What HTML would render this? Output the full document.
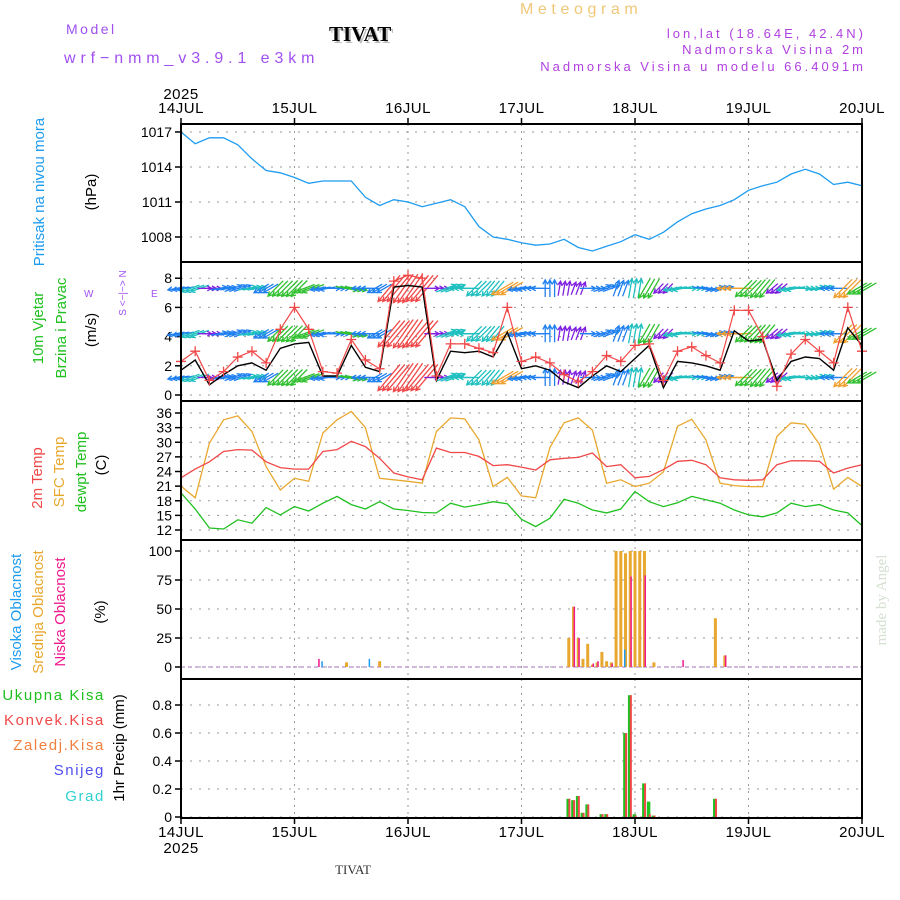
<!DOCTYPE html>
<html><head><meta charset="utf-8"><style>
html,body{margin:0;padding:0;background:#fff;}
svg{display:block;font-family:"Liberation Sans",sans-serif;}
</style></head><body>
<svg id="chart" width="900" height="900" viewBox="0 0 900 900">
<g>
<text x="66" y="34" fill="#a050f0" font-size="14" letter-spacing="2.5">Model</text>
<text x="64" y="63" fill="#a050f0" font-size="16" letter-spacing="4.9">wrf−nmm_v3.9.1 e3km</text>
<text x="331" y="43" fill="#bbb" font-size="21" font-weight="bold" font-family="Liberation Serif,serif">TIVAT</text>
<text x="329" y="41" fill="#000" font-size="21" font-weight="bold" font-family="Liberation Serif,serif">TIVAT</text>
<text x="520" y="14" fill="#f0c878" font-size="16" letter-spacing="4.6">Meteogram</text>
<text x="866" y="38" fill="#b040e0" font-size="13" text-anchor="end" letter-spacing="3">lon,lat (18.64E, 42.4N)</text>
<text x="866" y="54" fill="#b040e0" font-size="13" text-anchor="end" letter-spacing="3">Nadmorska Visina 2m</text>
<text x="866" y="71" fill="#b040e0" font-size="13" text-anchor="end" letter-spacing="3">Nadmorska Visina u modelu 66.4091m</text>
</g>
<g>
<text transform="translate(44,192) rotate(-90)" fill="#1e9cf0" font-size="15" text-anchor="middle">Pritisak na nivou mora</text>
<text transform="translate(96,192) rotate(-90)" fill="#000" font-size="15" text-anchor="middle">(hPa)</text>
<text transform="translate(43,328) rotate(-90)" fill="#20c020" font-size="15" text-anchor="middle">10m Vjetar</text>
<text transform="translate(66,328) rotate(-90)" fill="#20c020" font-size="15" text-anchor="middle">Brzina i Pravac</text>
<text transform="translate(96,330) rotate(-90)" fill="#000" font-size="15" text-anchor="middle">(m/s)</text>
<text transform="translate(126,293) rotate(-90)" fill="#a050f0" font-size="10" text-anchor="middle">S &lt;−|−&gt; N</text>
<text x="84" y="297" fill="#a050f0" font-size="10">W</text>
<text x="151" y="297" fill="#a050f0" font-size="10">E</text>
<text transform="translate(42,478) rotate(-90)" fill="#f04848" font-size="15" text-anchor="middle">2m Temp</text>
<text transform="translate(64,472) rotate(-90)" fill="#e8a830" font-size="15" text-anchor="middle">SFC Temp</text>
<text transform="translate(86,472) rotate(-90)" fill="#20c020" font-size="15" text-anchor="middle">dewpt Temp</text>
<text transform="translate(106,465) rotate(-90)" fill="#000" font-size="15" text-anchor="middle">(C)</text>
<text transform="translate(21,612) rotate(-90)" fill="#1e9cf0" font-size="15" text-anchor="middle">Visoka Oblacnost</text>
<text transform="translate(43,612) rotate(-90)" fill="#e8a830" font-size="15" text-anchor="middle">Srednja Oblacnost</text>
<text transform="translate(65,612) rotate(-90)" fill="#f0188c" font-size="15" text-anchor="middle">Niska Oblacnost</text>
<text transform="translate(105,612) rotate(-90)" fill="#000" font-size="15" text-anchor="middle">(%)</text>
<text x="105" y="700" fill="#20c020" font-size="15" text-anchor="end" letter-spacing="1.6">Ukupna  Kisa</text>
<text x="105" y="725" fill="#f04848" font-size="15" text-anchor="end" letter-spacing="1.6">Konvek.Kisa</text>
<text x="105" y="750" fill="#f08040" font-size="15" text-anchor="end" letter-spacing="1.6">Zaledj.Kisa</text>
<text x="105" y="775" fill="#5050f0" font-size="15" text-anchor="end" letter-spacing="1.6">Snijeg</text>
<text x="105" y="801" fill="#30d0d0" font-size="15" text-anchor="end" letter-spacing="1.6">Grad</text>
<text transform="translate(124,748) rotate(-90)" fill="#000" font-size="15" text-anchor="middle">1hr Precip (mm)</text>
<text transform="translate(886,600) rotate(-90)" fill="#d4e0d0" font-size="15" text-anchor="middle" font-family="Liberation Serif,serif">made by Angel</text>
<text x="353" y="874" fill="#333" font-size="13" text-anchor="middle" font-family="Liberation Serif,serif">TIVAT</text>
</g>
<g id="plots"></g>
</svg>
<script>
const days=['14JUL','15JUL','16JUL','17JUL','18JUL','19JUL','20JUL'];
const pressTicks=[1017,1014,1011,1008];
const windTicks=[0,2,4,6,8];
const tempTicks=[12,15,18,21,24,27,30,33,36];
const cloudTicks=[0,25,50,75,100];
const precipTicks=[0,0.2,0.4,0.6,0.8];
// 3-hourly series, t=0..48
const pressure=[1017.0,1016.0,1016.5,1016.5,1015.9,1014.7,1013.7,1013.5,1013.1,1012.6,1012.8,1012.8,1012.8,1011.4,1010.7,1011.2,1011.0,1010.6,1010.9,1011.2,1010.6,1008.9,1008.0,1007.8,1007.5,1007.3,1007.4,1007.8,1007.1,1006.8,1007.2,1007.6,1008.2,1007.8,1008.4,1009.3,1010.0,1010.4,1010.7,1011.2,1012.0,1012.4,1012.7,1013.4,1013.8,1013.4,1012.5,1012.7,1012.4];
const windSpeed=[1.7,2.4,0.7,1.4,2.0,2.2,1.7,3.2,3.5,3.6,1.3,1.3,3.4,1.9,1.6,7.4,7.5,7.4,1.0,3.0,2.9,3.0,2.6,4.3,1.8,2.0,1.7,0.9,0.5,1.3,2.0,1.6,2.5,3.4,0.5,2.3,2.2,2.0,1.7,4.4,3.7,3.8,1.0,2.3,2.6,2.5,1.7,4.6,3.4];
const windGust=[2.3,3.0,1.0,1.6,2.6,3.0,2.2,4.5,6.0,4.5,1.6,1.5,3.8,2.4,1.8,7.8,8.2,8.0,1.3,3.5,3.5,3.2,2.9,6.0,2.3,2.6,2.2,1.4,0.9,1.6,2.7,2.3,3.4,3.5,1.0,3.0,3.3,2.7,2.2,5.8,5.8,4.0,0.6,2.8,3.8,3.0,2.2,6.0,3.0];
const windDir=[80,70,270,260,250,260,60,45,45,70,80,270,280,90,60,40,35,40,270,250,90,45,40,60,80,90,180,190,200,270,250,200,190,30,45,80,270,280,260,90,45,40,50,80,270,260,90,45,60];
const temp2m=[22.7,24.5,26.0,28.1,28.5,28.4,26.0,24.8,24.5,24.5,28.1,28.5,30.2,29.1,26.7,23.7,22.9,22.3,28.8,27.9,27.9,27.1,25.2,25.4,24.9,24.3,26.4,26.7,26.9,27.8,25.0,25.4,22.7,23.0,24.4,26.1,26.3,25.4,22.7,22.3,22.2,22.3,25.4,26.2,26.2,26.1,23.7,24.7,25.4];
const tempSfc=[21.0,18.6,29.8,34.6,35.4,32.2,25.0,20.2,22.6,22.0,31.9,34.6,36.3,33.0,22.6,22.3,22.0,21.6,32.2,35.0,34.8,30.5,20.9,22.8,19.0,18.6,28.9,34.0,35.0,32.5,21.6,22.3,20.9,21.6,23.9,33.3,34.7,30.5,21.6,21.1,20.9,20.9,31.2,34.0,33.7,29.6,20.4,22.8,20.9];
const dewpoint=[19.6,16.3,12.4,12.2,14.1,13.4,16.6,15.1,16.8,15.9,17.5,18.9,17.2,16.3,17.8,16.3,16.0,15.6,15.5,17.5,16.7,17.2,17.8,17.4,14.2,12.7,14.4,18.3,17.5,16.1,15.5,16.3,19.9,17.8,16.8,17.6,18.9,18.2,17.5,16.1,15.1,14.7,15.5,17.5,16.8,17.2,16.1,15.5,12.9];
// hourly cloud bars: hour index and percent
const midHours=[35,42,82,83,84,85,86,87,88,89,90,91,92,93,94,95,96,97,98,100,113,115];
const midPct=[4,5,25,52,25,7,20,2,4,13,5,4,100,100,98,100,100,100,100,4,42,10];
const lowHours=[29,83,84,87,88,91,95,98,106,115];
const lowPct=[7,52,25,3,5,3,78,79,6,10];
const highHours=[30,40,94];
const highPct=[5,7,15];
// hourly precipitation (mm)
const rainHours=[82,83,84,85,86,89,90,94,95,96,98,99,100,113];
const rainTotal=[0.13,0.12,0.15,0.03,0.09,0.02,0.02,0.60,0.87,0.02,0.24,0.11,0.01,0.13];
const rainConv=[0.13,0.12,0.15,0.03,0.09,0.02,0.02,0.60,0.87,0.01,0.24,0.02,0.01,0.13];

const NS='http://www.w3.org/2000/svg';
const root=document.getElementById('plots');
const X0=181,X1=862,HOURS=144;
const xH=h=>X0+h/HOURS*(X1-X0);
const x3=i=>xH(i*3);
const panels=[
 {name:'pressure',top:124,bot:262,y:v=>202-(v-1011)*11.67,ticks:pressTicks,fmt:v=>v},
 {name:'wind',top:262,bot:401,y:v=>395-v*14.6,ticks:windTicks,fmt:v=>v},
 {name:'temperature',top:401,bot:540,y:v=>413+(36-v)*4.875,ticks:tempTicks,fmt:v=>v},
 {name:'cloud',top:540,bot:679,y:v=>667-v*1.16,ticks:cloudTicks,fmt:v=>v},
 {name:'precip',top:679,bot:818,y:v=>817-v*140,ticks:precipTicks,fmt:v=>v===0?'0':v.toFixed(1)}
];
function mk(tag,attrs,parent){const e=document.createElementNS(NS,tag);for(const k in attrs)e.setAttribute(k,attrs[k]);(parent||root).appendChild(e);return e;}

panels.forEach(p=>{
  const g=mk('g',{});
  
  
  p.g=g;
  days.forEach((d,i)=>{const x=xH(i*24);
    const l=mk('line',{x1:x,x2:x,y1:p.top,y2:p.bot,stroke:'#999','stroke-dasharray':'2,5'},g);
    
    });
  p.ticks.forEach(v=>{const y=p.y(v);
    const l=mk('line',{x1:X0,x2:X1,y1:y,y2:y,stroke:'#999','stroke-dasharray':'2,7'},g);
    
    
    const tk=mk('line',{x1:X0-6,x2:X0,y1:y,y2:y,stroke:'#000','stroke-width':1.5},g);
    
    
    const t=mk('text',{x:X0-9,y:y+5,'text-anchor':'end','font-size':14,fill:'#000'},g);
    t.textContent=p.fmt(v);
    
    });
});
function line(p,vals,color,name,w){
  const pts=vals.map((v,i)=>x3(i).toFixed(1)+','+p.y(v).toFixed(1)).join(' ');
  const l=mk('polyline',{points:pts,fill:'none',stroke:color,'stroke-width':w||1.3},p.g);
  
  
  return l;
}
line(panels[0],pressure,'#1e9cf0','pressure-line');
const wp=panels[1];
function spdColor(s){if(s>6)return'#f04848';if(s>4)return'#f0a030';if(s>3)return'#30c030';if(s>2)return'#20c0c0';if(s>1)return'#2080f0';return'#8020e0';}
[7.3,4.2,1.2].forEach((lv,row)=>{
  windDir.forEach((d,i)=>{
    const s=windSpeed[i];const len=12+s*3;
    const a=(d+180)*Math.PI/180;const dx=Math.sin(a)*len,dy=-Math.cos(a)*len;
    const c=spdColor(s);
    [-4.7,0,4.7].forEach(off=>{
      const cx=x3(i)+off,cy=wp.y(lv);
      const x1=cx-dx/2,y1=cy-dy/2,x2=cx+dx/2,y2=cy+dy/2;
      const ha=Math.atan2(y2-y1,x2-x1);
      const ar=mk('path',{d:`M${x1.toFixed(1)},${y1.toFixed(1)}L${x2.toFixed(1)},${y2.toFixed(1)}M${(x2-5*Math.cos(ha-0.5)).toFixed(1)},${(y2-5*Math.sin(ha-0.5)).toFixed(1)}L${x2.toFixed(1)},${y2.toFixed(1)}L${(x2-5*Math.cos(ha+0.5)).toFixed(1)},${(y2-5*Math.sin(ha+0.5)).toFixed(1)}`,stroke:c,'stroke-width':1.3,fill:'none'},wp.g);
      
      
    });
  });
});
line(wp,windSpeed,'#000','wind-speed-line',1.4);
line(wp,windGust,'#f04848','wind-gust-line',1.2);
windGust.forEach((v,i)=>{const x=x3(i),y=wp.y(v);
  const m=mk('path',{d:`M${x-5},${y}H${x+5}M${x},${y-5}V${y+5}`,stroke:'#f04848','stroke-width':1.3},wp.g);
  
  });
const tp=panels[2];
line(tp,tempSfc,'#e8a830','sfc-temp-line');
line(tp,temp2m,'#f04848','temp-2m-line');
line(tp,dewpoint,'#20c020','dewpoint-line');
const cp=panels[3];
const base=mk('line',{x1:X0,x2:X1,y1:cp.y(0),y2:cp.y(0),stroke:'#c0a0d0','stroke-width':1.5,'stroke-dasharray':'4,3'},cp.g);


function bars(p,hours,vals,color,off,w,name){hours.forEach((h,i)=>{const x=xH(h)+off,y=p.y(vals[i]),y0=p.y(0);
  const r=mk('rect',{x:x-w/2,y:y,width:w,height:Math.max(0,y0-y),fill:color},p.g);
  
  });}
bars(cp,midHours,midPct,'#e8a830',0,3,'mid-cloud-bar');
bars(cp,lowHours,lowPct,'#f0188c',0.8,1.5,'low-cloud-bar');
bars(cp,highHours,highPct,'#1e9cf0',-0.8,1.5,'high-cloud-bar');
const pp=panels[4];
bars(pp,rainHours,rainTotal,'#20c020',-0.6,3.5,'total-rain-bar');
bars(pp,rainHours,rainConv,'#f04848',0.6,2,'convective-rain-bar');
panels.forEach(p=>{const r=mk('rect',{x:X0,y:p.top,width:X1-X0,height:p.bot-p.top,fill:'none',stroke:'#000','stroke-width':2});
  
  });
days.forEach((d,i)=>{const x=xH(i*24);
  [[113,'x-label-top'],[837,'x-label-bottom']].forEach(([y,n])=>{
    const t=mk('text',{x:x,y:y,'text-anchor':'middle','font-size':15,fill:'#000','letter-spacing':'0.5'});
    t.textContent=d;
    
    });
  [[118,124],[818,824]].forEach(([a,b])=>{const l=mk('line',{x1:x,x2:x,y1:a,y2:b,stroke:'#000','stroke-width':1.5});
    
    });
});
[[99,'year-label-top'],[853,'year-label-bottom']].forEach(([y,n])=>{const t=mk('text',{x:X0,y:y,'text-anchor':'middle','font-size':15,fill:'#000','letter-spacing':'0.5'});
  t.textContent='2025';
  
  });
</script>
</body></html>
